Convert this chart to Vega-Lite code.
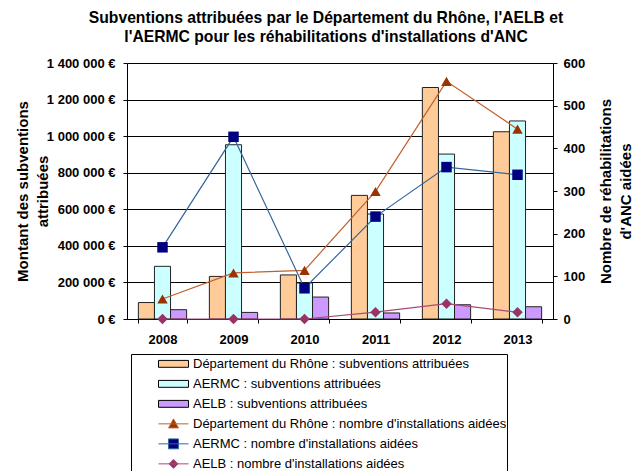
{
  "$schema": "https://vega.github.io/schema/vega-lite/v6.json",
  "width": 426,
  "height": 256,
  "autosize": {"type": "none"},
  "padding": {"left": 127, "top": 63, "right": 83, "bottom": 152},
  "background": "white",
  "title": {
    "text": ["Subventions attribuées par le Département du Rhône, l'AELB et", "l'AERMC pour les réhabilitations d'installations d'ANC"],
    "anchor": "middle",
    "font": "Liberation Sans",
    "fontSize": 15.7,
    "fontWeight": "bold",
    "color": "black",
    "lineHeight": 19,
    "offset": 11,
    "dx": -14
  },
  "config": {
    "view": {"stroke": null},
    "locale": {
      "number": {"decimal": ",", "thousands": " ", "grouping": [3], "currency": ["", " €"]}
    },
    "axis": {
      "labelFont": "Liberation Sans",
      "labelFontSize": 13,
      "labelFontWeight": "bold",
      "labelColor": "black",
      "titleFont": "Liberation Sans",
      "titleFontSize": 15,
      "titleFontWeight": "bold",
      "titleColor": "black",
      "domainColor": "black",
      "tickColor": "black",
      "gridColor": "black",
      "gridOpacity": 1,
      "tickSize": 4
    },
    "legend": {
      "title": null,
      "orient": "none",
      "legendX": 4,
      "legendY": 291,
      "direction": "vertical",
      "padding": 0,
      "strokeColor": "black",
      "fillColor": "white",
      "labelFont": "Liberation Sans",
      "labelFontSize": 13,
      "labelColor": "black",
      "labelLimit": 500,
      "symbolSize": 900,
      "symbolOffset": 27,
      "labelOffset": 4,
      "clipHeight": 19.7,
      "rowPadding": 0,
      "symbolStrokeWidth": 1
    }
  },
  "datasets": {
    "subv": [
      {"annee": "2008", "serie": "Département du Rhône : subventions attribuées", "montant": 90000},
      {"annee": "2008", "serie": "AERMC : subventions attribuées", "montant": 288000},
      {"annee": "2008", "serie": "AELB : subventions attribuées", "montant": 51000},
      {"annee": "2009", "serie": "Département du Rhône : subventions attribuées", "montant": 233000},
      {"annee": "2009", "serie": "AERMC : subventions attribuées", "montant": 953000},
      {"annee": "2009", "serie": "AELB : subventions attribuées", "montant": 36000},
      {"annee": "2010", "serie": "Département du Rhône : subventions attribuées", "montant": 241000},
      {"annee": "2010", "serie": "AERMC : subventions attribuées", "montant": 197000},
      {"annee": "2010", "serie": "AELB : subventions attribuées", "montant": 120000},
      {"annee": "2011", "serie": "Département du Rhône : subventions attribuées", "montant": 676000},
      {"annee": "2011", "serie": "AERMC : subventions attribuées", "montant": 574000},
      {"annee": "2011", "serie": "AELB : subventions attribuées", "montant": 33000},
      {"annee": "2012", "serie": "Département du Rhône : subventions attribuées", "montant": 1266000},
      {"annee": "2012", "serie": "AERMC : subventions attribuées", "montant": 902000},
      {"annee": "2012", "serie": "AELB : subventions attribuées", "montant": 78000},
      {"annee": "2013", "serie": "Département du Rhône : subventions attribuées", "montant": 1024000},
      {"annee": "2013", "serie": "AERMC : subventions attribuées", "montant": 1083000},
      {"annee": "2013", "serie": "AELB : subventions attribuées", "montant": 67000}
    ],
    "nombre": [
      {"annee": "2008", "serie": "Département du Rhône : nombre d'installations aidées", "nombre": 47},
      {"annee": "2009", "serie": "Département du Rhône : nombre d'installations aidées", "nombre": 108},
      {"annee": "2010", "serie": "Département du Rhône : nombre d'installations aidées", "nombre": 114},
      {"annee": "2011", "serie": "Département du Rhône : nombre d'installations aidées", "nombre": 299},
      {"annee": "2012", "serie": "Département du Rhône : nombre d'installations aidées", "nombre": 557},
      {"annee": "2013", "serie": "Département du Rhône : nombre d'installations aidées", "nombre": 445},
      {"annee": "2008", "serie": "AERMC : nombre d'installations aidées", "nombre": 168},
      {"annee": "2009", "serie": "AERMC : nombre d'installations aidées", "nombre": 427},
      {"annee": "2010", "serie": "AERMC : nombre d'installations aidées", "nombre": 72},
      {"annee": "2011", "serie": "AERMC : nombre d'installations aidées", "nombre": 240},
      {"annee": "2012", "serie": "AERMC : nombre d'installations aidées", "nombre": 356},
      {"annee": "2013", "serie": "AERMC : nombre d'installations aidées", "nombre": 338},
      {"annee": "2008", "serie": "AELB : nombre d'installations aidées", "nombre": 0},
      {"annee": "2009", "serie": "AELB : nombre d'installations aidées", "nombre": 0},
      {"annee": "2010", "serie": "AELB : nombre d'installations aidées", "nombre": 0},
      {"annee": "2011", "serie": "AELB : nombre d'installations aidées", "nombre": 16},
      {"annee": "2012", "serie": "AELB : nombre d'installations aidées", "nombre": 36},
      {"annee": "2013", "serie": "AELB : nombre d'installations aidées", "nombre": 16}
    ]
  },
  "layer": [
    {
      "data": {"name": "subv"},
      "mark": {"type": "bar", "stroke": "#222222", "strokeWidth": 1},
      "encoding": {
        "x": {
          "field": "annee", "type": "ordinal", "title": null,
          "scale": {"paddingInner": 0.32, "paddingOuter": 0.16},
          "axis": {"labelAngle": 0, "tickBand": "extent", "labelPadding": 10, "domainColor": "black", "grid": false}
        },
        "xOffset": {
          "field": "serie", "type": "nominal",
          "scale": {"domain": ["Département du Rhône : subventions attribuées", "AERMC : subventions attribuées", "AELB : subventions attribuées"]}
        },
        "y": {
          "field": "montant", "type": "quantitative",
          "scale": {"domain": [0, 1400000], "nice": false},
          "title": ["Montant des subventions", "attribuées"],
          "axis": {
            "orient": "left", "values": [0, 200000, 400000, 600000, 800000, 1000000, 1200000, 1400000],
            "format": "$,.0f", "grid": true, "labelPadding": 8,
            "titleX": -105, "titleY": 128, "titleAngle": -90, "titleBaseline": "middle", "titleAlign": "center", "titleLineHeight": 20
          }
        },
        "fill": {
          "field": "serie", "type": "nominal", "legend": null,
          "scale": {
            "domain": ["Département du Rhône : subventions attribuées", "AERMC : subventions attribuées", "AELB : subventions attribuées"],
            "range": ["#FFCC99", "#CCFFFF", "#CC99FF"]
          }
        }
      }
    },
    {
      "data": {"name": "nombre"},
      "encoding": {
        "x": {"field": "annee", "type": "ordinal"},
        "y": {
          "field": "nombre", "type": "quantitative",
          "scale": {"domain": [0, 600], "nice": false},
          "title": ["Nombre de réhabilitations", "d'ANC aidées"],
          "axis": {
            "orient": "right", "values": [0, 100, 200, 300, 400, 500, 600], "format": "d", "grid": false,
            "labelPadding": 6,
            "titleX": 52, "titleY": 128, "titleAngle": -90, "titleBaseline": "middle", "titleAlign": "center", "titleLineHeight": 20
          }
        }
      },
      "layer": [
        {
          "mark": {"type": "line", "strokeWidth": 1.2},
          "encoding": {
            "color": {
              "field": "serie", "type": "nominal",
              "scale": {
                "domain": ["Département du Rhône : subventions attribuées", "AERMC : subventions attribuées", "AELB : subventions attribuées", "Département du Rhône : nombre d'installations aidées", "AERMC : nombre d'installations aidées", "AELB : nombre d'installations aidées"],
                "range": ["#000000", "#000000", "#000000", "#C0602F", "#336699", "#A8487A"]
              },
              "legend": {
                "encode": {
                  "symbols": {
                    "update": {
                      "shape": {"signal": "indexof(datum.value,'subventions')>=0 ? 'M-1,-0.23H1V0.23H-1Z' : (indexof(datum.value,'Rhône')>=0 ? 'M-1,0H1M-0.33,0.27L0,-0.33L0.33,0.27Z' : (indexof(datum.value,'AERMC')>=0 ? 'M-1,0H1M-0.33,-0.33H0.33V0.33H-0.33Z' : 'M-1,0H1M0,-0.3L0.3,0L0,0.3L-0.3,0Z'))"},
                      "fill": {"signal": "indexof(datum.value,'subventions')>=0 ? (indexof(datum.value,'Rhône')>=0 ? '#FFCC99' : (indexof(datum.value,'AERMC')>=0 ? '#CCFFFF' : '#CC99FF')) : (indexof(datum.value,'Rhône')>=0 ? '#993300' : (indexof(datum.value,'AERMC')>=0 ? '#000080' : '#993366'))"},
                      "fillOpacity": {"value": 1},
                      "opacity": {"value": 1},
                      "strokeWidth": {"value": 1}
                    }
                  }
                }
              }
            }
          }
        },
        {
          "mark": {"type": "point", "filled": true, "opacity": 1, "size": 110, "strokeWidth": 0},
          "encoding": {
            "fill": {
              "field": "serie", "type": "nominal", "legend": null,
              "scale": {"domain": ["Département du Rhône : nombre d'installations aidées", "AERMC : nombre d'installations aidées", "AELB : nombre d'installations aidées"], "range": ["#993300", "#000080", "#993366"]}
            },
            "shape": {
              "field": "serie", "type": "nominal", "legend": null,
              "scale": {"domain": ["Département du Rhône : nombre d'installations aidées", "AERMC : nombre d'installations aidées", "AELB : nombre d'installations aidées"], "range": ["triangle-up", "square", "diamond"]}
            }
          }
        }
      ]
    }
  ],
  "resolve": {"scale": {"y": "independent", "fill": "independent"}}
}
